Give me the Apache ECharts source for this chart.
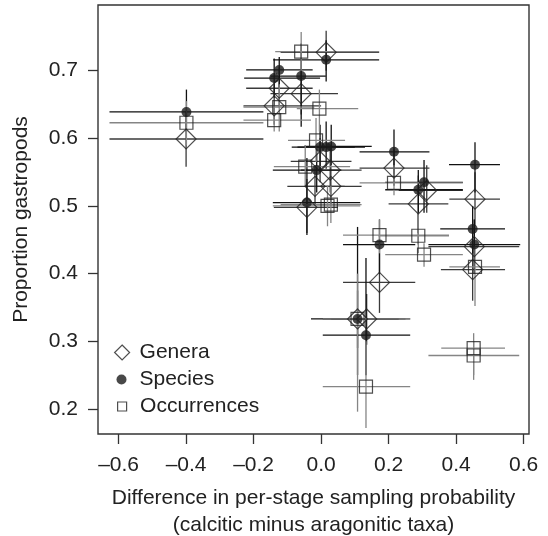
<!DOCTYPE html>
<html>
<head>
<meta charset="utf-8">
<script src="https://cdn.jsdelivr.net/npm/echarts@6/dist/echarts.min.js"></script>
<style>
  html,body{margin:0;padding:0;background:#fff}
  #chart{width:548px;height:536px}
</style>
</head>
<body>
<div id="chart"></div>
<script>
// each row: [x, y, xLow, xHigh, yLow, yHigh]
var genera = [
  [-0.400, 0.599, -0.627, -0.171, 0.558, 0.640],
  [-0.124, 0.674, -0.222, -0.025, 0.645, 0.705],
  [-0.059, 0.666, -0.150,  0.050, 0.635, 0.700],
  [-0.139, 0.648, -0.230,  0.000, 0.620, 0.680],
  [ 0.015, 0.727, -0.120,  0.172, 0.700, 0.759],
  [-0.003, 0.566, -0.090,  0.090, 0.535, 0.600],
  [ 0.027, 0.553, -0.060,  0.120, 0.520, 0.585],
  [-0.018, 0.529, -0.100,  0.070, 0.500, 0.560],
  [ 0.029, 0.529, -0.050,  0.120, 0.500, 0.560],
  [-0.042, 0.498, -0.140,  0.050, 0.460, 0.540],
  [ 0.216, 0.556,  0.114,  0.321, 0.530, 0.585],
  [ 0.313, 0.523,  0.230,  0.420, 0.490, 0.560],
  [ 0.288, 0.503,  0.200,  0.377, 0.460, 0.545],
  [ 0.456, 0.510,  0.380,  0.530, 0.470, 0.550],
  [ 0.454, 0.440,  0.318,  0.587, 0.400, 0.480],
  [ 0.449, 0.406,  0.355,  0.545, 0.360, 0.450],
  [ 0.173, 0.387,  0.065,  0.279, 0.342, 0.430],
  [ 0.108, 0.333,  0.005,  0.264, 0.290, 0.375],
  [ 0.135, 0.333,  0.030,  0.250, 0.295, 0.370]
];
var species = [
  [-0.399, 0.639, -0.627, -0.171, 0.610, 0.672],
  [-0.124, 0.701, -0.222, -0.025, 0.675, 0.720],
  [-0.139, 0.689, -0.228, -0.003, 0.660, 0.718],
  [-0.059, 0.692, -0.150,  0.014, 0.617, 0.740],
  [ 0.015, 0.716, -0.142,  0.172, 0.684, 0.745],
  [-0.003, 0.587, -0.087,  0.100, 0.550, 0.620],
  [ 0.015, 0.587, -0.070,  0.130, 0.555, 0.625],
  [ 0.030, 0.588, -0.050,  0.150, 0.560, 0.620],
  [-0.013, 0.553, -0.143,  0.060, 0.520, 0.585],
  [-0.042, 0.505, -0.143,  0.116, 0.457, 0.571],
  [ 0.216, 0.580,  0.114,  0.321, 0.546, 0.613],
  [ 0.305, 0.535,  0.190,  0.420, 0.490, 0.568],
  [ 0.288, 0.524,  0.190,  0.420, 0.443, 0.553],
  [ 0.456, 0.561,  0.379,  0.530, 0.520, 0.594],
  [ 0.449, 0.466,  0.353,  0.545, 0.430, 0.500],
  [ 0.454, 0.443,  0.318,  0.590, 0.400, 0.480],
  [ 0.173, 0.443,  0.065,  0.279, 0.400, 0.480],
  [ 0.108, 0.333, -0.030,  0.230, 0.250, 0.469],
  [ 0.133, 0.309,  0.005,  0.264, 0.250, 0.423]
];
var occurrences = [
  [-0.399, 0.623, -0.627, -0.171, 0.590, 0.655],
  [-0.059, 0.728, -0.136,  0.172, 0.700, 0.757],
  [-0.124, 0.646, -0.230, -0.020, 0.610, 0.680],
  [-0.139, 0.627, -0.230, -0.030, 0.610, 0.645],
  [-0.005, 0.644, -0.072,  0.110, 0.610, 0.672],
  [-0.015, 0.597, -0.098,  0.071, 0.565, 0.630],
  [-0.047, 0.558, -0.140,  0.086, 0.530, 0.590],
  [ 0.019, 0.500, -0.143,  0.116, 0.470, 0.530],
  [ 0.029, 0.502, -0.120,  0.120, 0.475, 0.530],
  [ 0.216, 0.534,  0.114,  0.420, 0.516, 0.560],
  [ 0.173, 0.457,  0.065,  0.379, 0.430, 0.480],
  [ 0.288, 0.456,  0.170,  0.379, 0.430, 0.490],
  [ 0.305, 0.428,  0.190,  0.420, 0.410, 0.445],
  [ 0.456, 0.410,  0.380,  0.530, 0.352, 0.440],
  [ 0.108, 0.333,  0.005,  0.264, 0.196, 0.400],
  [ 0.133, 0.233,  0.005,  0.264, 0.172, 0.300],
  [ 0.452, 0.290,  0.356,  0.545, 0.250, 0.312],
  [ 0.452, 0.279,  0.318,  0.587, 0.243, 0.300]
];
var xTicks = [-0.6, -0.4, -0.2, 0.0, 0.2, 0.4, 0.6];
var yTicks = [0.2, 0.3, 0.4, 0.5, 0.6, 0.7];

var font = "'Liberation Sans', Arial, sans-serif";
var ink = '#222';

function fmt(v){
  return (v < 0 ? '\u2013' : '') + Math.abs(v).toFixed(1);
}

function errorBars(name, rows, color){
  return {
    type: 'custom',
    name: name + ' bars',
    data: rows,
    encode: { x: [0, 2, 3], y: [1, 4, 5] },
    silent: true,
    z: 1,
    renderItem: function(params, api){
      var x = api.value(0), y = api.value(1);
      var a = api.coord([api.value(2), y]);
      var b = api.coord([api.value(3), y]);
      var c = api.coord([x, api.value(4)]);
      var d = api.coord([x, api.value(5)]);
      var st = { stroke: color, lineWidth: 1.3 };
      return {
        type: 'group',
        children: [
          { type: 'line', shape: { x1: a[0], y1: a[1], x2: b[0], y2: b[1] }, style: st },
          { type: 'line', shape: { x1: c[0], y1: c[1], x2: d[0], y2: d[1] }, style: st }
        ]
      };
    }
  };
}

function legendBox(name, icon, size, top, style, pad){
  return {
    data: [{ name: name, icon: icon, itemStyle: style }],
    left: 121.5 - size / 2,
    top: top,
    padding: 0,
    itemWidth: size,
    itemHeight: size,
    selectedMode: false,
    textStyle: { fontFamily: font, fontSize: 21, color: ink, lineHeight: 20, padding: [0, 0, 0, pad] }
  };
}

var openStyle = { color: 'rgba(0,0,0,0)', borderColor: '#222', borderWidth: 1.2 };
var dotStyle = { color: '#1a1a1a', borderWidth: 0 };

var chart = echarts.init(document.getElementById('chart'));
chart.setOption({
  animation: false,
  backgroundColor: '#fff',
  grid: {
    left: 98, right: 19, top: 5, bottom: 102,
    outerBoundsMode: 'none', containLabel: false,
    show: true, borderColor: '#333', borderWidth: 1.4
  },
  legend: [
    legendBox('Genera', 'diamond', 15, 342, openStyle, 5),
    legendBox('Species', 'circle', 10, 369, dotStyle, 8),
    legendBox('Occurrences', 'rect', 9, 396, openStyle, 8.5)
  ],
  xAxis: {
    type: 'value',
    min: -0.661,
    max: 0.616,
    name: 'Difference in per-stage sampling probability\n(calcitic minus aragonitic taxa)',
    nameLocation: 'middle',
    nameGap: 51,
    nameTextStyle: { fontFamily: font, fontSize: 21, color: ink, lineHeight: 27 },
    axisLine: { show: false, onZero: false },
    splitLine: { show: false },
    axisTick: { show: true, inside: false, length: 10, customValues: xTicks, lineStyle: { color: '#333', width: 1.3 } },
    axisLabel: { customValues: xTicks, formatter: fmt, margin: 21, fontFamily: font, fontSize: 21, color: ink }
  },
  yAxis: {
    type: 'value',
    min: 0.163,
    max: 0.797,
    name: 'Proportion gastropods',
    nameLocation: 'middle',
    nameGap: 66,
    nameTextStyle: { fontFamily: font, fontSize: 21, color: ink },
    axisLine: { show: false, onZero: false },
    splitLine: { show: false },
    axisTick: { show: true, inside: false, length: 10, customValues: yTicks, lineStyle: { color: '#333', width: 1.3 } },
    axisLabel: { customValues: yTicks, formatter: fmt, margin: 20, fontFamily: font, fontSize: 21, color: ink }
  },
  series: [
    errorBars('Genera', genera, '#3a3a3a'),
    errorBars('Species', species, '#111'),
    errorBars('Occurrences', occurrences, '#858585'),
    {
      type: 'scatter', name: 'Genera', data: genera, encode: { x: 0, y: 1 },
      symbol: 'diamond', symbolSize: 20, itemStyle: openStyle, z: 3, silent: true
    },
    {
      type: 'scatter', name: 'Species', data: species, encode: { x: 0, y: 1 },
      symbol: 'circle', symbolSize: 10, itemStyle: dotStyle, z: 4, silent: true
    },
    {
      type: 'scatter', name: 'Occurrences', data: occurrences, encode: { x: 0, y: 1 },
      symbol: 'rect', symbolSize: 13, itemStyle: openStyle, z: 3, silent: true
    }
  ]
});
</script>
</body>
</html>
